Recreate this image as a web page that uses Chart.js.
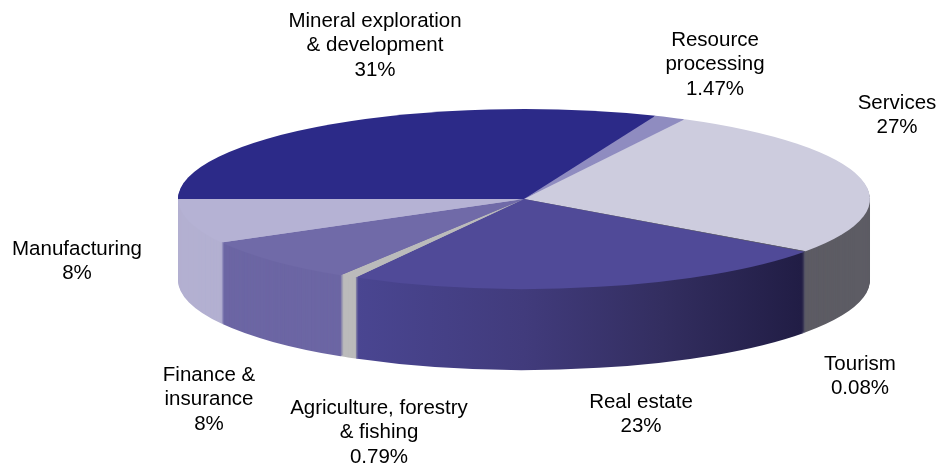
<!DOCTYPE html>
<html>
<head>
<meta charset="utf-8">
<style>
  html, body { margin: 0; padding: 0; background: #fff; }
  canvas { display: block; }
</style>
<script src="https://cdn.jsdelivr.net/npm/chart.js@4"></script>
</head>
<body>
<canvas id="chart" width="941" height="466"></canvas>
<script>
// ---------------- DATA ----------------
const categories = [
  "Mineral exploration\n& development",
  "Resource\nprocessing",
  "Services",
  "Tourism",
  "Real estate",
  "Agriculture, forestry\n& fishing",
  "Finance &\ninsurance",
  "Manufacturing",
];
const shares = [31, 1.47, 27, 0.08, 23, 0.79, 8, 8];

// ---------------- STYLE ----------------
const topColors = ["#2c2a88", "#8f8cc0", "#cdccde", "#55556a", "#504a98", "#bbbbbb", "#706aa8", "#b5b2d4"];
const labelCentres = [
  [375, 21], [715, 40], [897, 103], [860, 364],
  [641, 402], [379, 408], [209, 375], [77, 249],
];
const lineHeight = 24.5;
const radiusX = 346;
const radiusY = 90;
const depth = 81;

const canvas = document.getElementById("chart");
const ctx = canvas.getContext("2d");

// side wall colours, real estate is shaded left to right
function horizontal(stops) {
  const g = ctx.createLinearGradient(178, 0, 870, 0);
  stops.forEach(([at, c]) => g.addColorStop(at, c));
  return g;
}
const wallColors = [
  "#2c2a88", "#8f8cc0", "#5d5c64", "#55556a",
  horizontal([[0.25, "#4a4692"], [0.5, "#413b7c"], [0.7, "#332e60"], [0.9, "#211d45"]]),
  "#bbbbbb",
  "#6c66a4",
  "#b3b0d1",
];

// ---------------- SQUASH + DEPTH ----------------
function squash(chart, shift) {
  const arc = chart.getDatasetMeta(0).data[0];
  ctx.translate(0, arc.y + shift);
  ctx.scale(1, radiusY / radiusX);
  ctx.translate(0, -arc.y);
}

const pie3d = {
  id: "pie3d",
  beforeDatasetsDraw(chart) {
    const arcs = chart.getDatasetMeta(0).data;
    // stack the rim downwards, deepest layer first
    for (let d = depth; d > 0; d--) {
      ctx.save();
      squash(chart, d);
      arcs.forEach((arc, i) => {
        const options = arc.options;
        arc.options = { ...options, backgroundColor: wallColors[i], borderWidth: 0 };
        arc.draw(ctx);
        arc.options = options;
      });
      ctx.restore();
    }
    ctx.save();
    squash(chart, 0);
  },
  afterDatasetsDraw(chart) {
    ctx.restore();
    ctx.save();
    ctx.fillStyle = "#000";
    ctx.font = "20.5px 'Liberation Sans'";
    ctx.textAlign = "center";
    ctx.textBaseline = "middle";
    categories.forEach((name, i) => {
      const lines = name.split("\n").concat(shares[i] + "%");
      lines.forEach((line, n) => {
        ctx.fillText(line, labelCentres[i][0], labelCentres[i][1] + n * lineHeight);
      });
    });
    ctx.restore();
  },
};

// ---------------- CHART ----------------
new Chart(canvas, {
  type: "pie",
  data: {
    labels: categories,
    datasets: [
      {
        data: shares,
        backgroundColor: topColors,
        borderWidth: 0,
        radius: radiusX,
        clip: false,
      },
    ],
  },
  options: {
    responsive: false,
    animation: false,
    rotation: -90,
    layout: { padding: { left: 107, bottom: 68 } },
    plugins: {
      legend: { display: false },
      tooltip: { enabled: false },
    },
  },
  plugins: [pie3d],
});
</script>
</body>
</html>
